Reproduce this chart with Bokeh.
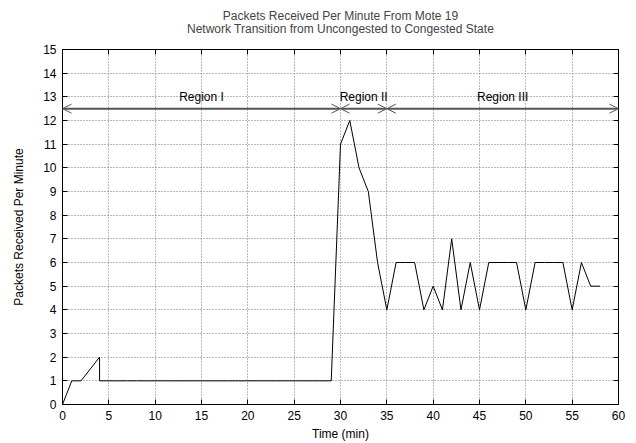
from bokeh.plotting import figure
from bokeh.models import Range1d, LinearAxis, Arrow, OpenHead, Label, Title, FixedTicker
from bokeh.embed import file_html
from bokeh.resources import INLINE

# ---- data ----
time_min = [0, 1, 2, 4, 4, 5, 6, 7, 8, 9, 10, 11, 12, 13, 14, 15, 16, 17, 18, 19, 20,
            21, 22, 23, 24, 25, 26, 27, 28, 29, 30, 31, 32, 33, 34, 35, 36, 37, 38, 39,
            40, 41, 42, 43, 44, 45, 46, 47, 48, 49, 50, 51, 52, 53, 54, 55, 56, 57, 58]
packets = [0, 1, 1, 2, 1, 1, 1, 1, 1, 1, 1, 1, 1, 1, 1, 1, 1, 1, 1, 1, 1,
           1, 1, 1, 1, 1, 1, 1, 1, 1, 11, 12, 10, 9, 6, 4, 6, 6, 6, 4,
           5, 4, 7, 4, 6, 4, 6, 6, 6, 6, 4, 6, 6, 6, 6, 4, 6, 5, 5]

region_names = ["Region I", "Region II", "Region III"]
region_start = [0, 30, 35]
region_end = [30, 35, 60]
region_arrow_y = 12.5
region_label_y = 13

x_ticks = list(range(0, 61, 5))
y_ticks = list(range(0, 16, 1))

title_line1 = "Packets Received Per Minute From Mote 19"
title_line2 = "Network Transition from Uncongested to Congested State"
x_label = "Time (min)"
y_label = "Packets Received Per Minute"

FONT = "Liberation Sans"

p = figure(width=636, height=443, output_backend="svg", toolbar_location=None,
           x_range=Range1d(0, 60), y_range=Range1d(0, 15),
           min_border_left=62, min_border_right=18, min_border_top=49, min_border_bottom=0,
           title=None)

p.outline_line_color = "black"
p.outline_line_width = 1
p.background_fill_color = "white"
p.border_fill_color = "white"

xt = FixedTicker(ticks=x_ticks)
yt = FixedTicker(ticks=y_ticks)

p.xaxis.ticker = xt
p.yaxis.ticker = yt
for ax in (p.xaxis[0], p.yaxis[0]):
    ax.major_tick_in = 5
    ax.major_tick_out = 0
    ax.minor_tick_in = 0
    ax.minor_tick_out = 0
    ax.axis_line_color = "black"
    ax.major_tick_line_color = "black"
    ax.major_label_text_font = FONT
    ax.major_label_text_font_size = "12px"
    ax.major_label_text_color = "black"
    ax.axis_label_text_font = FONT
    ax.axis_label_text_font_size = "12px"
    ax.axis_label_text_font_style = "normal"
    ax.axis_label_text_color = "black"

p.xaxis.axis_label = x_label
p.yaxis.axis_label = y_label
p.xaxis.major_label_standoff = 6
p.xaxis.axis_label_standoff = 4
p.yaxis.major_label_standoff = 6
p.yaxis.axis_label_standoff = 14

# top / right axes: inward ticks only (added first so they hug the frame)
top_ax = LinearAxis(ticker=xt, major_tick_in=5, major_tick_out=0, minor_tick_in=0,
                    minor_tick_out=0, major_label_text_font_size="1px",
                    major_label_text_color=None, major_label_standoff=0,
                    axis_line_color="black")
p.add_layout(top_ax, "above")
right_ax = LinearAxis(ticker=yt, major_tick_in=5, major_tick_out=0, minor_tick_in=0,
                      minor_tick_out=0, major_label_text_font_size="1px",
                      major_label_text_color=None, major_label_standoff=0,
                      axis_line_color="black")
p.add_layout(right_ax, "right")

p.add_layout(Title(text=title_line2, align="center", text_font=FONT, text_font_size="12px",
                   text_font_style="normal", standoff=28), "above")
p.add_layout(Title(text=title_line1, align="center", text_font=FONT, text_font_size="12px",
                   text_font_style="normal", standoff=-34), "above")

p.xgrid.ticker = xt
p.ygrid.ticker = yt
for g in (p.xgrid[0], p.ygrid[0]):
    g.grid_line_color = "#777777"
    g.grid_line_dash = "1 2"
    g.grid_line_width = 1

p.line(time_min, packets, line_color="black", line_width=1)

for name, s, e in zip(region_names, region_start, region_end):
    p.add_layout(Arrow(x_start=s, y_start=region_arrow_y, x_end=e, y_end=region_arrow_y,
                       line_color="#555555", line_width=2,
                       start=OpenHead(size=9, line_color="#555555", line_width=1),
                       end=OpenHead(size=9, line_color="#555555", line_width=1)))
    p.add_layout(Label(x=(s + e) / 2, y=region_label_y, text=name, text_align="center",
                       text_baseline="middle", text_font=FONT, text_font_size="12px",
                       text_color="black"))

open("out.html", "w").write(file_html(p, INLINE))
